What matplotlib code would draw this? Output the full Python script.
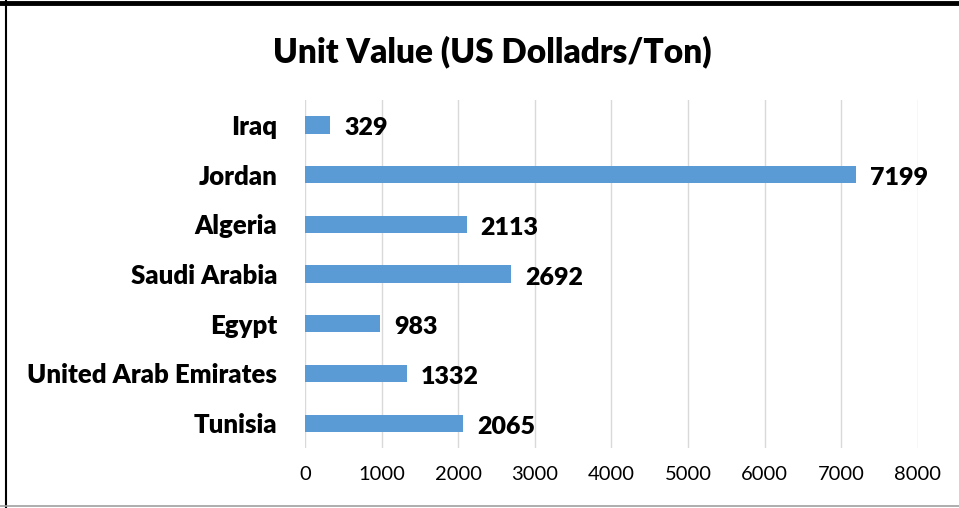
import numpy as np
import matplotlib
matplotlib.use('Agg')
import matplotlib.pyplot as plt
from matplotlib.lines import Line2D

countries = ['Iraq', 'Jordan', 'Algeria', 'Saudi Arabia', 'Egypt',
             'United Arab Emirates', 'Tunisia']
unit_values = [329, 7199, 2113, 2692, 983, 1332, 2065]
xticks = [0, 1000, 2000, 3000, 4000, 5000, 6000, 7000, 8000]

plt.rcParams['font.family'] = ['Lato', 'DejaVu Sans']

fig = plt.figure(figsize=(9.59, 5.08), dpi=100)
ax = fig.add_axes([0.318, 0.118, 0.639, 0.685])

Y = np.arange(len(countries))
ax.barh(Y, unit_values, height=0.35, color='#5b9bd5', zorder=3)
for y, v in zip(Y, unit_values):
    ax.annotate(str(v), (v, y), xytext=(10, -2.5), textcoords='offset points',
                ha='left', va='center', fontsize=18, fontweight='heavy', zorder=4)

ax.set_ylim(len(countries) - 0.5, -0.5)
ax.set_xlim(0, 8000)
ax.set_xticks(xticks)
ax.set_yticks(Y)
ax.set_yticklabels(countries, fontsize=18.5, fontweight='heavy')
ax.tick_params(axis='y', length=0, pad=20)
ax.tick_params(axis='x', length=0, pad=13, labelsize=14.5)
ax.grid(axis='x', color='#d9d9d9', linewidth=1, zorder=0)
for s in ax.spines.values():
    s.set_visible(False)

fig.text(0.513, 0.897, 'Unit Value (US Dolladrs/Ton)', ha='center', va='center',
         fontsize=24, fontweight='heavy')

# outer frame
fig.add_artist(Line2D([0, 1], [0.994, 0.994], color='black', linewidth=3.5, transform=fig.transFigure))
fig.add_artist(Line2D([0.006, 0.006], [0, 1], color='black', linewidth=1.5, transform=fig.transFigure))
fig.add_artist(Line2D([0, 1], [0.004, 0.004], color='#a0a0a0', linewidth=1.2, transform=fig.transFigure))

plt.savefig('out.png', dpi=100)
